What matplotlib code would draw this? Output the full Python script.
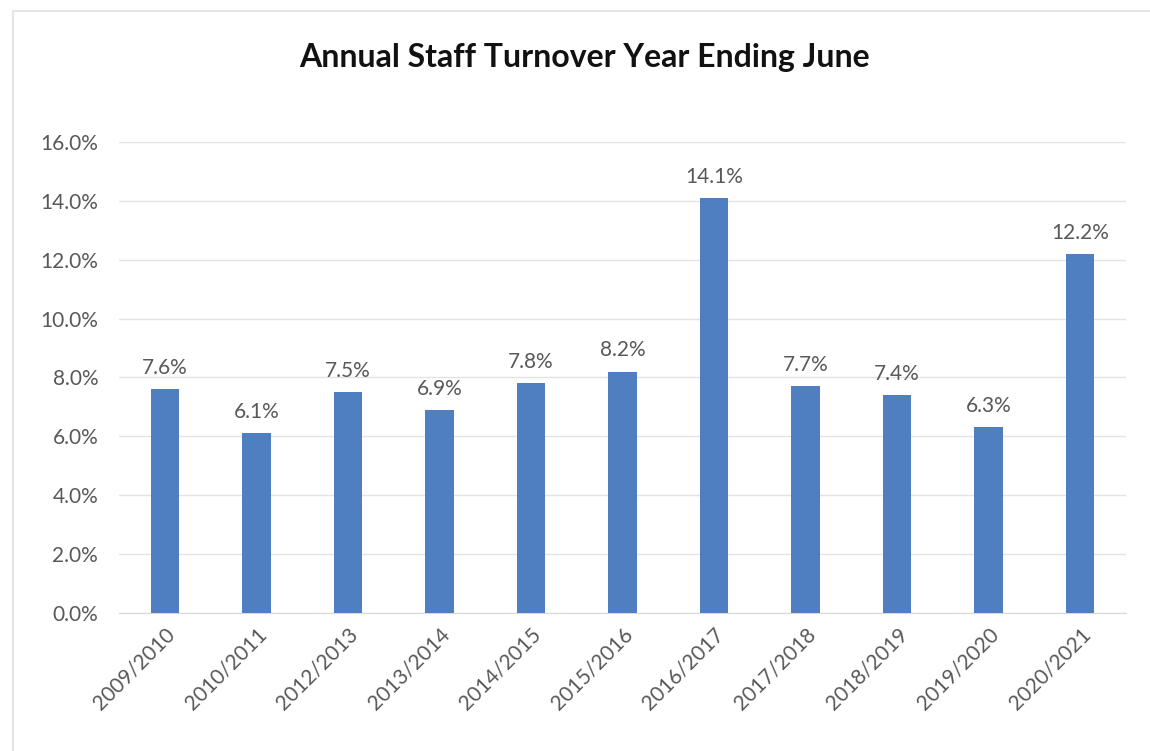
import matplotlib.pyplot as plt
from matplotlib.ticker import PercentFormatter
from matplotlib.patches import Rectangle

years = ["2009/2010", "2010/2011", "2012/2013", "2013/2014", "2014/2015", "2015/2016",
         "2016/2017", "2017/2018", "2018/2019", "2019/2020", "2020/2021"]
turnover = [7.6, 6.1, 7.5, 6.9, 7.8, 8.2, 14.1, 7.7, 7.4, 6.3, 12.2]

plt.rcParams["font.family"] = ["Lato", "DejaVu Sans"]

fig = plt.figure(figsize=(11.5, 7.51), dpi=100)
ax = fig.add_axes([0.1035, 0.1838, 0.8755, 0.6272])

bars = ax.bar(range(len(years)), turnover, width=0.31, color="#4f7fc0", zorder=3)
for i, v in enumerate(turnover):
    ax.annotate(f"{v:.1f}%", (i, v), xytext=(0, 8), textcoords="offset points",
                ha="center", va="bottom", fontsize=15, color="#595959")

ax.set_xlim(-0.5, len(years) - 0.5)
ax.set_ylim(0, 16)
ax.set_yticks(range(0, 17, 2))
ax.yaxis.set_major_formatter(PercentFormatter(decimals=1))
ax.set_xticks(range(len(years)))
ax.set_xticklabels(years, rotation=45, ha="right", rotation_mode="anchor")
ax.tick_params(axis="both", length=0, labelsize=15, labelcolor="#595959")
ax.tick_params(axis="y", pad=15)
ax.tick_params(axis="x", pad=8)
ax.grid(axis="y", color="#e3e3e3", linewidth=1, zorder=0)
for s in ["top", "right", "left"]:
    ax.spines[s].set_visible(False)
ax.spines["bottom"].set_color("#d9d9d9")

fig.text(0.508, 0.924, "Annual Staff Turnover Year Ending June", ha="center", va="center",
         fontsize=23, fontweight="bold", color="#111111")

fig.patches.append(Rectangle((0.011, -0.01), 1.0, 0.995, transform=fig.transFigure,
                             fill=False, edgecolor="#e6e6e6", linewidth=1.5))

fig.savefig("out.png", dpi=100)
